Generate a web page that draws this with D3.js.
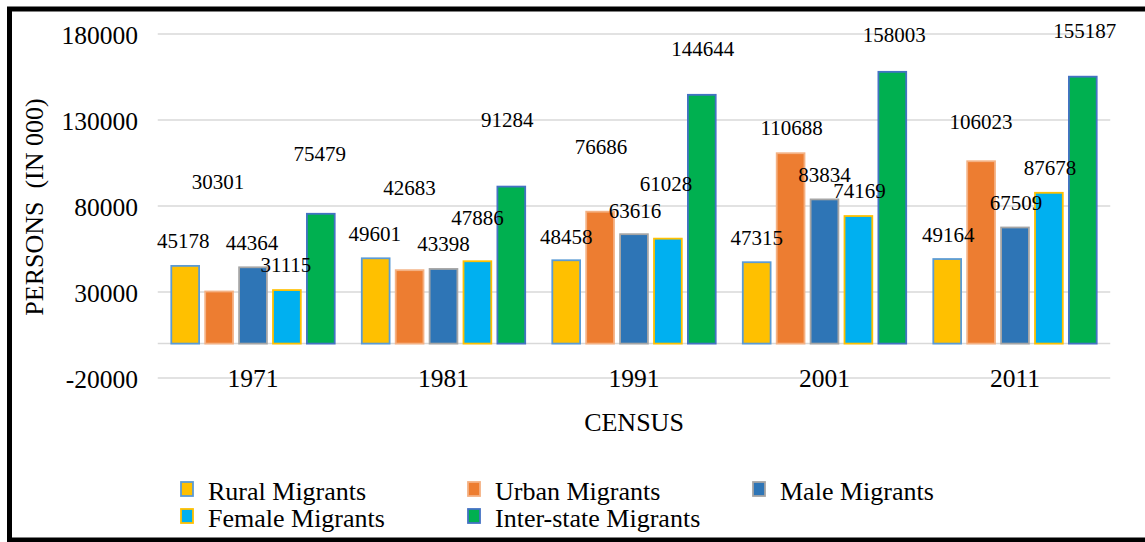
<!DOCTYPE html>
<html>
<head>
<meta charset="utf-8">
<script src="https://cdn.jsdelivr.net/npm/d3@7"></script>
<style>
  html, body { margin: 0; padding: 0; background: #fff; }
  svg { display: block; }
  text { font-family: "Liberation Serif", "Times New Roman", serif; fill: #000; }
</style>
</head>
<body>
<svg id="chart" width="1145" height="542"></svg>
<script>
// ---- data ----
const years = ["1971", "1981", "1991", "2001", "2011"];
const seriesNames = ["Rural Migrants", "Urban Migrants", "Male Migrants", "Female Migrants", "Inter-state Migrants"];
const rural = [45178, 49601, 48458, 47315, 49164];
const urban = [30301, 42683, 76686, 110688, 106023];
const male = [44364, 43398, 63616, 83834, 67509];
const female = [31115, 47886, 61028, 74169, 87678];
const interstate = [75479, 91284, 144644, 158003, 155187];
const yTicks = [-20000, 30000, 80000, 130000, 180000];

// ---- layout / style (not data) ----
const fills = ["#FFC000", "#ED7D31", "#2E75B6", "#00B0F0", "#00B050"];
const strokes = ["#5B9BD5", "#F4B183", "#A5A5A5", "#FFC000", "#4472C4"];
// distance (px) from bar top to label centre, as placed in the original
const labelLift = [
  [25, 25, 24, 25, 24],
  [110, 83, 65, 26, 39.5],
  [25, 25.5, 24, 25, 25],
  [25, 44, 55, 25, 25.5],
  [60.5, 67, 46.5, 37.5, 46]
];
const labelShift = [
  [-2, -1, 0, 0, 1],
  [-1, 0, 1, 1, 0],
  [-1, 0, 1, 0, 1],
  [-1, 0, -2, 1, 1],
  [-1, -4, 1, 2, 2]
];

const seriesValues = [rural, urban, male, female, interstate];
const serif = '"Liberation Serif", "Times New Roman", serif';

const svg = d3.select("#chart");

// outer frame
svg.append("rect").attr("x", 0).attr("y", 0).attr("width", 1145).attr("height", 542).attr("fill", "#fff");
svg.append("rect")
  .attr("x", 9.5).attr("y", 9).attr("width", 1250).attr("height", 531)
  .attr("fill", "none").attr("stroke", "#000").attr("stroke-width", 5);

const y = d3.scaleLinear().domain([-20000, 180000]).range([378, 34]);
const x0 = d3.scaleBand().domain(years).range([157.75, 1110.25]).paddingInner(0).paddingOuter(0);
const half = 84.75;
const x1 = d3.scaleBand().domain(seriesNames)
  .range([x0.bandwidth() / 2 - half, x0.bandwidth() / 2 + half])
  .paddingInner(0.18).paddingOuter(0.09);

// gridlines
const grid = svg.append("g");
grid.selectAll("line.g").data(yTicks.concat([0])).join("line")
  .attr("x1", 157.75).attr("x2", 1110.25)
  .attr("y1", d => y(d)).attr("y2", d => y(d))
  .attr("stroke", "#D9D9D9").attr("stroke-width", 1.5);

// y axis labels
const yAxis = d3.axisLeft(y).tickValues(yTicks).tickSize(0).tickPadding(0).tickFormat(d => String(d));
const ya = svg.append("g").attr("transform", "translate(138,0)").call(yAxis);
ya.select(".domain").remove();
ya.selectAll("text").style("font-family", serif).style("font-size", "25.5px").attr("fill", "#000").attr("dy", "0.38em");

// y axis title
svg.append("text")
  .attr("transform", "translate(43,207) rotate(-90)")
  .attr("text-anchor", "middle")
  .style("font-size", "26px")
  .style("white-space", "pre")
  .text("PERSONS  (IN 000)");

// bars
const groups = svg.append("g").selectAll("g").data(years).join("g")
  .attr("transform", d => `translate(${x0(d)},0)`);

groups.each(function (yr, yi) {
  const g = d3.select(this);
  const recs = seriesNames.map((s, si) => ({ s, si, v: seriesValues[si][yi] }));
  g.selectAll("rect").data(recs).join("rect")
    .attr("x", d => x1(d.s))
    .attr("width", x1.bandwidth())
    .attr("y", d => y(d.v))
    .attr("height", d => y(0) - y(d.v))
    .attr("fill", d => fills[d.si])
    .attr("stroke", d => strokes[d.si])
    .attr("stroke-width", 1.8);
});

// data labels
groups.each(function (yr, yi) {
  const g = d3.select(this);
  const recs = seriesNames.map((s, si) => ({ s, si, v: seriesValues[si][yi] }));
  g.selectAll("text.lbl").data(recs).join("text")
    .attr("class", "lbl")
    .attr("x", d => x1(d.s) + x1.bandwidth() / 2 + labelShift[d.si][yi])
    .attr("y", d => y(d.v) - labelLift[d.si][yi])
    .attr("dy", "0.35em")
    .attr("text-anchor", "middle")
    .style("font-size", "21px")
    .text(d => d.v);
});

// category labels
const xAxis = d3.axisBottom(x0).tickSize(0).tickPadding(0);
const xa = svg.append("g").attr("transform", `translate(0,${y(-20000)})`).call(xAxis);
xa.select(".domain").remove();
xa.selectAll("text").style("font-family", serif).style("font-size", "25.5px").attr("fill", "#000").attr("dy", "0.35em");

// x axis title
svg.append("text").attr("x", 634).attr("y", 422).attr("dy", "0.35em")
  .attr("text-anchor", "middle").style("font-size", "26px").text("CENSUS");

// legend
const legendPos = [[181, 489], [468, 489], [753, 489], [181, 516], [468, 516]];
const lg = svg.append("g").selectAll("g").data(seriesNames).join("g")
  .attr("transform", (d, i) => `translate(${legendPos[i][0]},${legendPos[i][1]})`);
lg.append("rect").attr("x", 0).attr("y", -7).attr("width", 12).attr("height", 14)
  .attr("fill", (d, i) => fills[i]).attr("stroke", (d, i) => strokes[i]).attr("stroke-width", 1.8);
lg.append("text").attr("x", 27).attr("y", 2).attr("dy", "0.35em").style("font-size", "26px").text(d => d);
</script>
</body>
</html>
